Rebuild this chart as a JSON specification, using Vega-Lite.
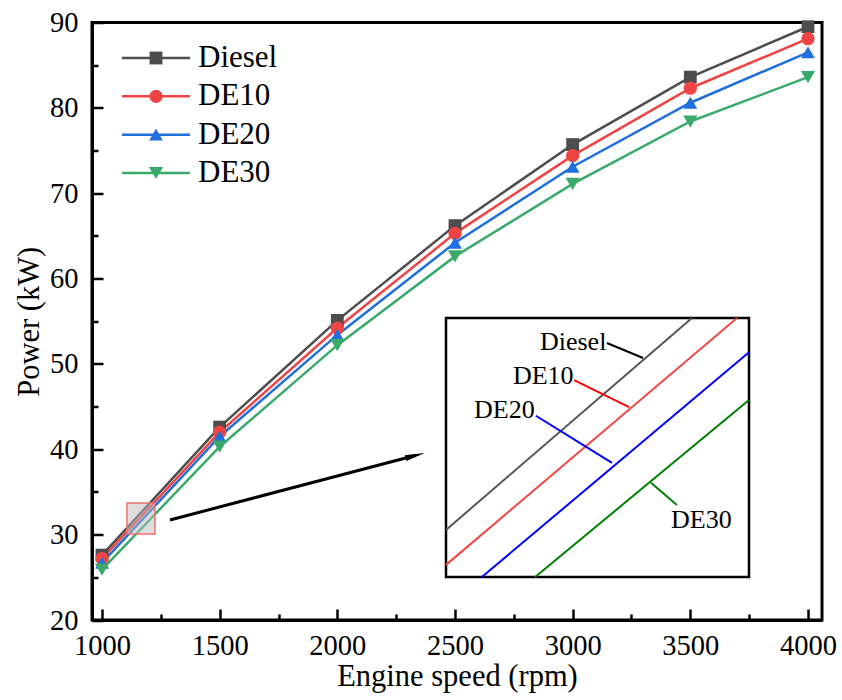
{
  "$schema": "https://vega.github.io/schema/vega-lite/v6.json",
  "width": 730,
  "height": 597.5,
  "autosize": {"type": "none"},
  "padding": {"left": 92, "top": 22.5, "right": 20, "bottom": 80},
  "background": "white",
  "config": {
    "font": "Liberation Serif",
    "view": {"stroke": "black", "strokeWidth": 3},
    "axis": {
      "grid": false,
      "domainColor": "black",
      "domainWidth": 3,
      "tickColor": "black",
      "tickWidth": 2.5,
      "labelFont": "Liberation Serif",
      "labelFontSize": 28.5,
      "labelColor": "black",
      "labelFlush": false,
      "labelOverlap": false,
      "labelBound": false,
      "titleFont": "Liberation Serif",
      "titleFontSize": 30.5,
      "titleFontWeight": "normal",
      "titleColor": "black"
    }
  },
  "datasets": {
    "main": [
      {"series": "Diesel", "rpm": 1000, "power": 27.6},
      {"series": "Diesel", "rpm": 1500, "power": 42.6},
      {"series": "Diesel", "rpm": 2000, "power": 55.1},
      {"series": "Diesel", "rpm": 2500, "power": 66.2},
      {"series": "Diesel", "rpm": 3000, "power": 75.7},
      {"series": "Diesel", "rpm": 3500, "power": 83.6},
      {"series": "Diesel", "rpm": 4000, "power": 89.5},
      {"series": "DE10", "rpm": 1000, "power": 27.2},
      {"series": "DE10", "rpm": 1500, "power": 42.0},
      {"series": "DE10", "rpm": 2000, "power": 54.2},
      {"series": "DE10", "rpm": 2500, "power": 65.3},
      {"series": "DE10", "rpm": 3000, "power": 74.4},
      {"series": "DE10", "rpm": 3500, "power": 82.3},
      {"series": "DE10", "rpm": 4000, "power": 88.1},
      {"series": "DE20", "rpm": 1000, "power": 26.7},
      {"series": "DE20", "rpm": 1500, "power": 41.5},
      {"series": "DE20", "rpm": 2000, "power": 53.4},
      {"series": "DE20", "rpm": 2500, "power": 64.2},
      {"series": "DE20", "rpm": 3000, "power": 73.1},
      {"series": "DE20", "rpm": 3500, "power": 80.6},
      {"series": "DE20", "rpm": 4000, "power": 86.5},
      {"series": "DE30", "rpm": 1000, "power": 25.9},
      {"series": "DE30", "rpm": 1500, "power": 40.3},
      {"series": "DE30", "rpm": 2000, "power": 52.2},
      {"series": "DE30", "rpm": 2500, "power": 62.6},
      {"series": "DE30", "rpm": 3000, "power": 71.1},
      {"series": "DE30", "rpm": 3500, "power": 78.4},
      {"series": "DE30", "rpm": 4000, "power": 83.6}
    ],
    "zoombox": [
      {"rpm": 1106, "rpm_end": 1225, "power": 30.08, "power_end": 33.71}
    ],
    "arrow": [
      {"rpm": 1288.9, "rpm_end": 2331, "power": 31.72, "power_end": 39.27}
    ],
    "inset": [
      {"series": "Diesel", "rpm": 1106, "power": 30.74},
      {"series": "Diesel", "rpm": 1202.6, "power": 33.71},
      {"series": "DE10", "rpm": 1106, "power": 30.25},
      {"series": "DE10", "rpm": 1220.3, "power": 33.71},
      {"series": "DE20", "rpm": 1120.1, "power": 30.08},
      {"series": "DE20", "rpm": 1225, "power": 33.23},
      {"series": "DE30", "rpm": 1141.0, "power": 30.08},
      {"series": "DE30", "rpm": 1225, "power": 32.56}
    ],
    "leaders": [
      {"series": "Diesel", "rpm1": 1169.2, "p1": 33.36, "rpm2": 1183.4, "p2": 33.15},
      {"series": "DE10", "rpm1": 1156.3, "p1": 32.84, "rpm2": 1177.9, "p2": 32.46},
      {"series": "DE20", "rpm1": 1141.3, "p1": 32.34, "rpm2": 1171.2, "p2": 31.68},
      {"series": "DE30", "rpm1": 1186.5, "p1": 31.40, "rpm2": 1196.7, "p2": 31.09}
    ],
    "labels": [
      {"label": "Diesel", "rpm": 1142.9, "power": 33.37},
      {"label": "DE10", "rpm": 1132.3, "power": 32.90},
      {"label": "DE20", "rpm": 1117.0, "power": 32.42},
      {"label": "DE30", "rpm": 1194.4, "power": 30.88}
    ],
    "series": [
      {"series": "Diesel"},
      {"series": "DE10"},
      {"series": "DE20"},
      {"series": "DE30"}
    ]
  },
  "layer": [
    {
      "encoding": {
        "x": {
          "field": "rpm",
          "type": "quantitative",
          "scale": {"domain": [957.5, 4059.5], "nice": false, "zero": false},
          "axis": {
            "title": "Engine speed (rpm)",
            "values": [1000, 1250, 1500, 1750, 2000, 2250, 2500, 2750, 3000, 3250, 3500, 3750, 4000],
            "format": "d",
            "labelExpr": "datum.value % 500 === 0 ? datum.label : ''",
            "tickSize": {"condition": {"test": "datum.value % 500 === 0", "value": -11}, "value": -6},
            "labelPadding": 22,
            "titlePadding": -3
          }
        },
        "y": {
          "field": "power",
          "type": "quantitative",
          "scale": {"domain": [20, 90], "nice": false, "zero": false},
          "axis": {
            "title": "Power (kW)",
            "values": [20, 25, 30, 35, 40, 45, 50, 55, 60, 65, 70, 75, 80, 85, 90],
            "labelExpr": "datum.value % 10 === 0 ? datum.label : ''",
            "tickSize": {"condition": {"test": "datum.value % 10 === 0", "value": -11}, "value": -6},
            "labelPadding": 25,
            "titlePadding": 5
          }
        }
      },
      "layer": [
        {
          "data": {"name": "main"},
          "mark": {"type": "line", "strokeWidth": 2.5},
          "encoding": {
            "order": {"field": "rpm", "type": "quantitative"},
            "color": {
              "field": "series",
              "type": "nominal",
              "scale": {"domain": ["Diesel", "DE10", "DE20", "DE30"], "range": ["#4d4d4d", "#ef4444", "#1f6fdc", "#3aaa6b"]},
              "legend": null
            }
          }
        },
        {
          "data": {"name": "main"},
          "mark": {"type": "point", "filled": true, "opacity": 1},
          "encoding": {
            "color": {"field": "series", "type": "nominal", "legend": null},
            "shape": {
              "field": "series",
              "type": "nominal",
              "scale": {"domain": ["Diesel", "DE10", "DE20", "DE30"], "range": ["square", "circle", "triangle-up", "triangle-down"]},
              "legend": null
            },
            "size": {
              "field": "series",
              "type": "nominal",
              "scale": {"domain": ["Diesel", "DE10", "DE20", "DE30"], "range": [165, 200, 290, 290]},
              "legend": null
            }
          }
        },
        {
          "data": {"name": "zoombox"},
          "mark": {"type": "rect", "fill": "#bdbdbd", "fillOpacity": 0.5, "stroke": "#f07070", "strokeWidth": 1.5},
          "encoding": {
            "x2": {"field": "rpm_end"},
            "y2": {"field": "power_end"}
          }
        },
        {
          "data": {"name": "arrow"},
          "mark": {"type": "rule", "strokeWidth": 3, "color": "black"},
          "encoding": {
            "x2": {"field": "rpm_end"},
            "y2": {"field": "power_end"}
          }
        },
        {
          "data": {"name": "arrow"},
          "mark": {"type": "point", "filled": true, "opacity": 1, "color": "black", "shape": "M1,0L-1,-0.3L-1,0.3Z", "size": 400, "angle": 345.3},
          "encoding": {
            "x": {"field": "rpm_end", "type": "quantitative"},
            "y": {"field": "power_end", "type": "quantitative"}
          }
        }
      ]
    },
    {
      "encoding": {
        "x": {"type": "quantitative", "scale": {"domain": [1106, 1225], "range": [354, 657], "nice": false, "zero": false}, "axis": null},
        "y": {"type": "quantitative", "scale": {"domain": [30.08, 33.71], "range": [554.5, 295.5], "nice": false, "zero": false}, "axis": null}
      },
      "layer": [
        {
          "data": {"name": "zoombox"},
          "mark": {"type": "rect", "fill": "white", "stroke": "black", "strokeWidth": 2.5},
          "encoding": {
            "x": {"field": "rpm", "type": "quantitative"},
            "x2": {"field": "rpm_end"},
            "y": {"field": "power", "type": "quantitative"},
            "y2": {"field": "power_end"}
          }
        },
        {
          "data": {"name": "inset"},
          "mark": {"type": "line", "strokeWidth": 2},
          "encoding": {
            "x": {"field": "rpm", "type": "quantitative"},
            "y": {"field": "power", "type": "quantitative"},
            "detail": {"field": "series"},
            "stroke": {
              "field": "series",
              "type": "nominal",
              "scale": {"domain": ["Diesel", "DE10", "DE20", "DE30"], "range": ["#555555", "#f04848", "#0000ff", "#008000"]},
              "legend": null
            }
          }
        },
        {
          "data": {"name": "leaders"},
          "mark": {"type": "rule", "strokeWidth": 2},
          "encoding": {
            "x": {"field": "rpm1", "type": "quantitative"},
            "x2": {"field": "rpm2"},
            "y": {"field": "p1", "type": "quantitative"},
            "y2": {"field": "p2"},
            "stroke": {
              "field": "series",
              "type": "nominal",
              "scale": {"domain": ["Diesel", "DE10", "DE20", "DE30"], "range": ["#000000", "#ff0000", "#0000ff", "#008000"]},
              "legend": null
            }
          }
        },
        {
          "data": {"name": "labels"},
          "mark": {"type": "text", "align": "left", "baseline": "middle", "fontSize": 26, "font": "Liberation Serif", "color": "black"},
          "encoding": {
            "x": {"field": "rpm", "type": "quantitative"},
            "y": {"field": "power", "type": "quantitative"},
            "text": {"field": "label"}
          }
        }
      ],
      "resolve": {"scale": {"stroke": "independent"}}
    },
    {
      "data": {"name": "series"},
      "encoding": {
        "y": {
          "field": "series",
          "type": "nominal",
          "scale": {"type": "point", "domain": ["Diesel", "DE10", "DE20", "DE30"], "range": [35.5, 150.5], "padding": 0},
          "axis": null
        }
      },
      "layer": [
        {
          "mark": {"type": "rule", "strokeWidth": 2.5},
          "encoding": {
            "x": {"datum": 0, "type": "quantitative", "scale": {"domain": [0, 1], "range": [30, 98], "nice": false, "zero": false}, "axis": null},
            "x2": {"datum": 1},
            "color": {"field": "series", "type": "nominal", "legend": null}
          }
        },
        {
          "mark": {"type": "point", "filled": true, "opacity": 1},
          "encoding": {
            "x": {"datum": 0.5, "type": "quantitative"},
            "color": {"field": "series", "type": "nominal", "legend": null},
            "shape": {"field": "series", "type": "nominal", "legend": null},
            "size": {"field": "series", "type": "nominal", "legend": null}
          }
        },
        {
          "mark": {"type": "text", "align": "left", "baseline": "middle", "fontSize": 31, "font": "Liberation Serif", "color": "black"},
          "encoding": {
            "x": {"datum": 1.118, "type": "quantitative"},
            "text": {"field": "series"}
          }
        }
      ]
    }
  ],
  "resolve": {"scale": {"x": "independent", "y": "independent"}, "axis": {"x": "independent", "y": "independent"}}
}
